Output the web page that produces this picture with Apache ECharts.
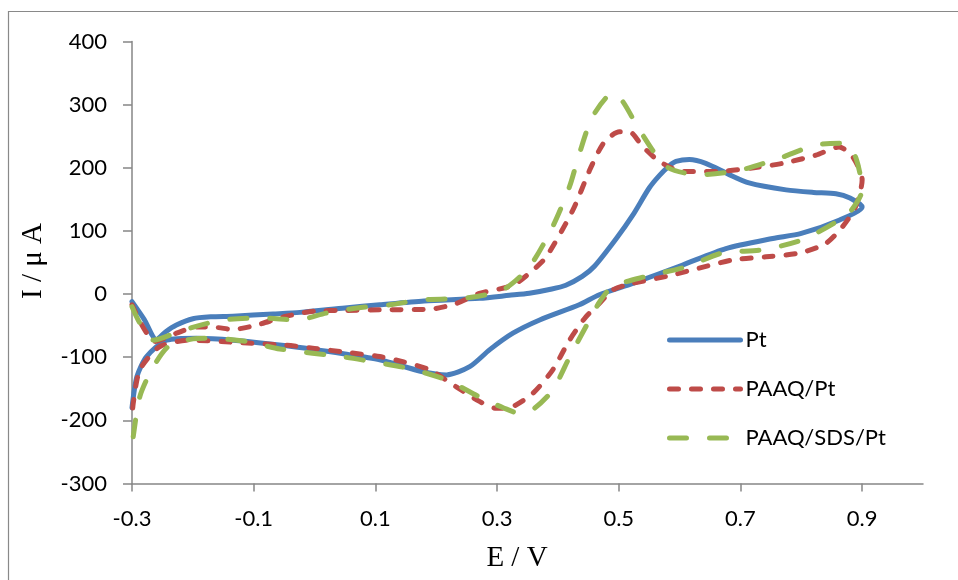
<!DOCTYPE html>
<html>
<head>
<meta charset="utf-8">
<script src="https://cdn.jsdelivr.net/npm/echarts@6/dist/echarts.min.js"></script>
<style>
  html, body { margin: 0; padding: 0; background: #fff; }
  #chart { width: 958px; height: 580px; }
</style>
</head>
<body>
<div id="chart"></div>
<script>
// Cyclic voltammograms: potential E (V) and current I (µA), traced along the sweep
const ptE = [-0.300, -0.280, -0.260, -0.245, -0.227, -0.200, -0.170, -0.134, -0.068, -0.024, 0.050, 0.107, 0.180, 0.271, 0.320, 0.353, 0.390, 0.413, 0.440, 0.460, 0.496, 0.523, 0.550, 0.567, 0.583, 0.594, 0.616, 0.643, 0.680, 0.714, 0.775, 0.820, 0.857, 0.880, 0.900,
             0.862, 0.800, 0.753, 0.676, 0.605, 0.523, 0.468, 0.435, 0.370, 0.326, 0.288, 0.255, 0.217, 0.178, 0.107, 0.050, -0.046, -0.134, -0.194, -0.243, -0.276, -0.292, -0.300];
const ptI = [-12, -40, -72, -60, -49, -39, -36, -35, -31.5, -29, -22, -17, -11, -6.7, -2, 1.3, 8, 14, 28, 44, 88, 125, 168, 188, 203, 210, 213, 207, 190, 176, 165, 161, 159, 152, 138,
             117, 96, 88, 72, 46, 17, -1, -17, -41, -62, -88, -115, -128, -123, -104, -95, -82, -73, -70, -73, -99, -131, -180];

const paaqE = [-0.300, -0.262, -0.227, -0.194, -0.160, -0.134, -0.095, -0.050, 0.000, 0.050, 0.107, 0.189, 0.233, 0.271, 0.326, 0.359, 0.381, 0.4245, 0.452, 0.468, 0.479, 0.501, 0.5175, 0.539, 0.567, 0.605, 0.660, 0.714, 0.769, 0.824, 0.862, 0.884, 0.900,
               0.889, 0.868, 0.840, 0.797, 0.742, 0.687, 0.632, 0.578, 0.523, 0.490, 0.468, 0.446, 0.419, 0.3915, 0.359, 0.326, 0.299, 0.271, 0.233, 0.189, 0.145, 0.107, 0.050, 0.000, -0.046, -0.123, -0.205, -0.254, -0.287, -0.298, -0.300];
const paaqI = [-17, -75, -62, -52, -53, -56, -49, -36, -27, -26, -25, -24, -15, 1, 14, 38, 59, 133, 196, 228, 244, 257, 257, 234, 210, 194, 194, 199, 207, 220, 233, 218, 181,
               138, 107, 80, 65, 59, 54, 41, 28, 17, 6.5, -15, -36, -73, -120, -157, -178, -181, -170, -147, -120, -107, -99, -92, -86, -81, -77, -73, -83, -120, -173, -200];

const sdsE = [-0.300, -0.287, -0.265, -0.216, -0.150, -0.085, -0.030, 0.020, 0.070, 0.1235, 0.178, 0.244, 0.309, 0.353, 0.3915, 0.419, 0.4354, 0.457, 0.490, 0.5065, 0.534, 0.578, 0.632, 0.698, 0.764, 0.824, 0.873, 0.890, 0.900,
              0.880, 0.857, 0.802, 0.736, 0.670, 0.610, 0.545, 0.490, 0.470, 0.452, 0.419, 0.3915, 0.360, 0.337, 0.310, 0.271, 0.217, 0.156, 0.100, 0.050, -0.057, -0.112, -0.172, -0.200, -0.238, -0.265, -0.287, -0.298, -0.300];
const sdsI = [-20, -46, -73, -57, -41, -38, -41, -30, -22, -17, -9, -6.7, 6.5, 43, 107, 170, 223, 281, 318, 305, 260, 202, 189, 196, 215, 236, 239, 215, 165,
              130, 114, 86, 70, 65, 43, 28, 12, -10, -41, -100, -152, -182, -189, -180, -163, -136, -118, -108, -100, -87, -75, -70, -71, -81, -115, -162, -226, -246];

const seriesNames = ['Pt', 'PAAQ/Pt', 'PAAQ/SDS/Pt'];
const xTicks = [-0.3, -0.1, 0.1, 0.3, 0.5, 0.7, 0.9];

const pairs = (xs, ys) => xs.map((x, i) => [x, ys[i]]);

const chart = echarts.init(document.getElementById('chart'));
const axisColor = '#868686';
const labelFont = 'Lato, "Open Sans", sans-serif';
const titleFont = '"Liberation Serif", "DejaVu Serif", serif';

chart.setOption({
  animation: false,
  backgroundColor: '#fff',
  grid: { left: 132, right: 35, top: 41.5, bottom: 96.5, containLabel: false },
  xAxis: {
    type: 'value',
    min: -0.3,
    max: 1.0,
    axisLine: { show: true, onZero: false, lineStyle: { color: axisColor, width: 1.5 } },
    axisTick: { show: true, length: 8, customValues: xTicks, lineStyle: { color: axisColor, width: 1.5 } },
    axisLabel: {
      customValues: xTicks,
      formatter: v => v.toFixed(1),
      color: '#000', fontSize: 22, fontFamily: labelFont, margin: 24
    },
    splitLine: { show: false }
  },
  yAxis: {
    type: 'value',
    min: -300,
    max: 400,
    interval: 100,
    axisLine: { show: true, onZero: false, lineStyle: { color: axisColor, width: 1.5 } },
    axisTick: { show: true, length: 9, lineStyle: { color: axisColor, width: 1.5 } },
    axisLabel: { color: '#000', fontSize: 22, fontFamily: labelFont, margin: 25 },
    splitLine: { show: false }
  },
  legend: {
    orient: 'vertical',
    left: 662,
    top: 324,
    itemWidth: 71,
    itemHeight: 14,
    itemGap: 27,
    textStyle: { color: '#000', fontSize: 22, fontFamily: labelFont },
    lineStyle: { width: 'inherit', type: 'inherit', cap: 'round' },
    itemStyle: { opacity: 0, borderWidth: 0 },
    data: seriesNames
  },
  series: [
    {
      name: seriesNames[0], type: 'line', showSymbol: false, symbol: 'none', smooth: 0.25,
      data: pairs(ptE, ptI),
      lineStyle: { color: '#4a7ebb', width: 5, cap: 'round', join: 'round' },
      itemStyle: { color: '#4a7ebb' }, z: 3
    },
    {
      name: seriesNames[1], type: 'line', showSymbol: false, symbol: 'none', smooth: 0.25,
      data: pairs(paaqE, paaqI),
      lineStyle: { color: '#be4b48', width: 5, type: [9, 13], cap: 'round', join: 'round' },
      itemStyle: { color: '#be4b48' }, z: 4
    },
    {
      name: seriesNames[2], type: 'line', showSymbol: false, symbol: 'none', smooth: 0.25,
      data: pairs(sdsE, sdsI),
      lineStyle: { color: '#98b954', width: 5, type: [17, 23], cap: 'round', join: 'round' },
      itemStyle: { color: '#98b954' }, z: 5
    }
  ],
  graphic: [
    {
      type: 'rect', silent: true,
      shape: { x: 8.5, y: 11.5, width: 1200, height: 1200 },
      style: { fill: 'none', stroke: '#898989', lineWidth: 1.2 }
    },
    {
      type: 'text', x: 517, y: 558,
      style: { text: 'E / V', font: '29px ' + titleFont, fill: '#000', align: 'center', verticalAlign: 'middle' }
    },
    {
      type: 'text', x: 33, y: 261, rotation: Math.PI / 2,
      style: { text: 'I / μ A', font: '29px ' + titleFont, fill: '#000', align: 'center', verticalAlign: 'middle' }
    }
  ]
});
</script>
</body>
</html>
